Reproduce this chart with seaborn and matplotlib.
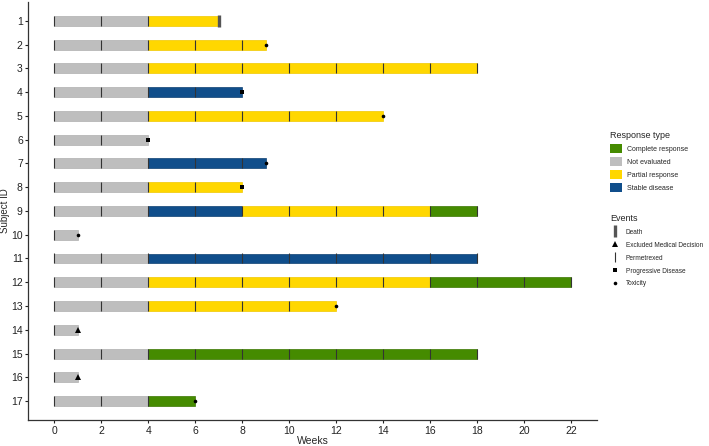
import matplotlib
matplotlib.use("Agg")
import matplotlib.pyplot as plt
import matplotlib.patches as mpatches
from matplotlib.lines import Line2D
import seaborn as sns
import pandas as pd

# Response segments per subject (weeks)
seg_subject = [1, 1, 2, 2, 3, 3, 4, 4, 5, 5, 6, 7, 7, 8, 8, 9, 9, 9, 9,
               10, 11, 11, 12, 12, 12, 13, 13, 14, 15, 15, 16, 17, 17]
seg_start = [0, 4, 0, 4, 0, 4, 0, 4, 0, 4, 0, 0, 4, 0, 4, 0, 4, 8, 16,
             0, 0, 4, 0, 4, 16, 0, 4, 0, 0, 4, 0, 0, 4]
seg_end = [4, 7, 4, 9, 4, 18, 4, 8, 4, 14, 4, 4, 9, 4, 8, 4, 8, 16, 18,
           1, 4, 18, 4, 16, 22, 4, 12, 1, 4, 18, 1, 4, 6]
seg_response = ["NE", "PR", "NE", "PR", "NE", "PR", "NE", "SD", "NE", "PR", "NE",
                "NE", "SD", "NE", "PR", "NE", "SD", "PR", "CR",
                "NE", "NE", "SD", "NE", "PR", "CR", "NE", "PR", "NE",
                "NE", "CR", "NE", "NE", "CR"]

# Permetrexed doses (weeks) per subject
perm_weeks = {
    1: [0, 2, 4],
    2: [0, 2, 4, 6, 8],
    3: [0, 2, 4, 6, 8, 10, 12, 14, 16, 18],
    4: [0, 2, 4, 6],
    5: [0, 2, 4, 6, 8, 10, 12],
    6: [0, 2],
    7: [0, 2, 4, 6, 8],
    8: [0, 2, 4, 6],
    9: [0, 2, 4, 6, 8, 10, 12, 14, 16, 18],
    10: [0],
    11: [0, 2, 4, 6, 8, 10, 12, 14, 16, 18],
    12: [0, 2, 4, 6, 8, 10, 12, 14, 16, 18, 20, 22],
    13: [0, 2, 4, 6, 8, 10],
    14: [0],
    15: [0, 2, 4, 6, 8, 10, 12, 14, 16, 18],
    16: [0],
    17: [0, 2, 4],
}

# End-of-treatment events
event_subject = [1, 2, 4, 5, 6, 7, 8, 10, 13, 14, 16, 17]
event_week = [7, 9, 8, 14, 4, 9, 8, 1, 12, 1, 1, 6]
event_type = ["Death", "Toxicity", "Progressive Disease", "Toxicity",
              "Progressive Disease", "Toxicity", "Progressive Disease",
              "Toxicity", "Toxicity", "Excluded Medical Decision",
              "Excluded Medical Decision", "Toxicity"]

response_labels = {"CR": "Complete response", "NE": "Not evaluated",
                   "PR": "Partial response", "SD": "Stable disease"}
response_colors = {"CR": "#458B00", "NE": "#BEBEBE", "PR": "#FFD700", "SD": "#104E8B"}
edge_colors = {"CR": "#3A7500", "NE": "#B0B0B0", "PR": "#F0C800", "SD": "#0C3F72"}

event_style = {
    "Death": dict(marker="|", markersize=8, mew=2.4, color="#555555"),
    "Excluded Medical Decision": dict(marker="^", markersize=4.5, mew=0, color="black"),
    "Permetrexed": dict(marker="|", markersize=7, mew=0.8, color="#333333"),
    "Progressive Disease": dict(marker="s", markersize=3, mew=0, color="black"),
    "Toxicity": dict(marker="o", markersize=2.6, mew=0, color="black"),
}

sns.set_theme(style="ticks")
plt.rcParams["font.family"] = ["Liberation Sans", "DejaVu Sans"]

segs = pd.DataFrame({"subject": seg_subject, "start": seg_start,
                     "end": seg_end, "response": seg_response})
events = pd.DataFrame({"subject": event_subject, "week": event_week,
                       "type": event_type})

fig = plt.figure(figsize=(7.09, 4.46), dpi=100)
ax = fig.add_axes([0.04, 0.058, 0.802, 0.938])

for _, r in segs.iterrows():
    ax.barh(r["subject"], r["end"] - r["start"], left=r["start"], height=0.42,
            color=response_colors[r["response"]],
            edgecolor=edge_colors[r["response"]], linewidth=0.5, zorder=2)

perm_x = [w for s, ws in perm_weeks.items() for w in ws]
perm_y = [s for s, ws in perm_weeks.items() for w in ws]
ax.plot(perm_x, perm_y, linestyle="none", zorder=3, **event_style["Permetrexed"])

for etype, grp in events.groupby("type"):
    ax.plot(grp["week"], grp["subject"], linestyle="none", zorder=4,
            **event_style[etype])

ax.set_xlim(-1.1, 23.1)
ax.set_ylim(17.8, 0.2)
ax.set_xticks(range(0, 23, 2))
ax.set_yticks(range(1, 18))
ax.tick_params(axis="both", labelsize=7.5, length=2.5, width=0.8, pad=1.5,
               colors="#222222")
ax.set_xlabel("Weeks", fontsize=7.5, labelpad=0)
ax.set_ylabel("Subject ID", fontsize=7, labelpad=1)
for sp in ["left", "bottom"]:
    ax.spines[sp].set_linewidth(0.9)
    ax.spines[sp].set_color("#333333")
sns.despine(ax=ax)

resp_handles = [mpatches.Patch(facecolor=response_colors[k], edgecolor="none",
                               label=v) for k, v in response_labels.items()]
leg1 = fig.legend(handles=resp_handles, title="Response type", loc="upper left",
                  bbox_to_anchor=(0.857, 0.713), frameon=False, fontsize=5,
                  title_fontsize=6.5, handlelength=1.6, handleheight=1.55,
                  labelspacing=0.62, handletextpad=0.8, borderaxespad=0)
leg1._legend_box.align = "left"

event_order = ["Death", "Excluded Medical Decision", "Permetrexed",
               "Progressive Disease", "Toxicity"]
ev_handles = [Line2D([], [], linestyle="none", label=k, **event_style[k])
              for k in event_order]
leg2 = fig.legend(handles=ev_handles, title="Events", loc="upper left",
                  bbox_to_anchor=(0.857, 0.525), frameon=False, fontsize=4.7,
                  title_fontsize=6.5, handlelength=1.6, handleheight=1.2,
                  labelspacing=0.8, handletextpad=0.8, borderaxespad=0)
leg2._legend_box.align = "left"

fig.savefig("out.png", dpi=100)
